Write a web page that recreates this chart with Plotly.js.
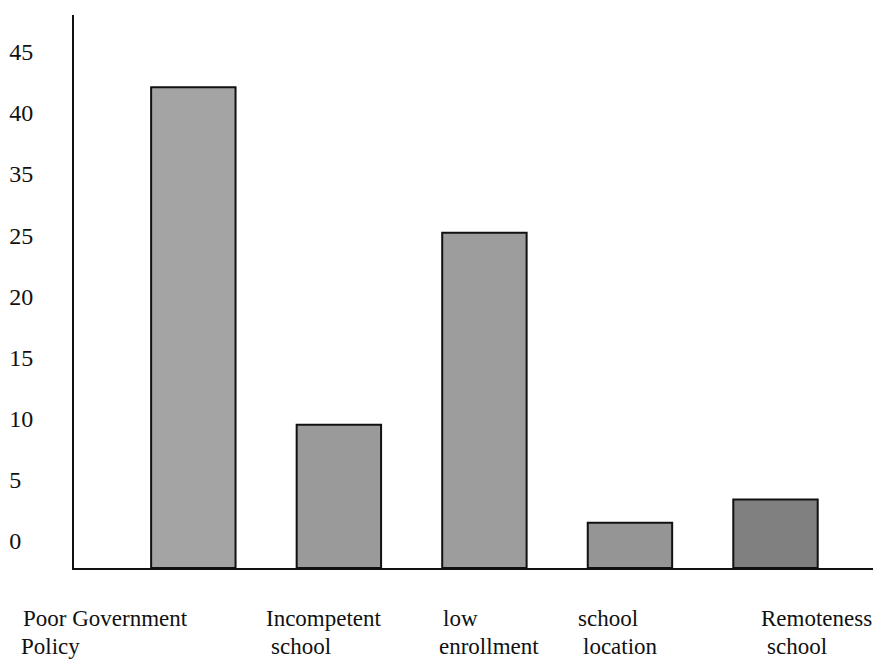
<!DOCTYPE html>
<html>
<head>
<meta charset="utf-8">
<script src="https://cdn.plot.ly/plotly-3.0.1.min.js"></script>
<style>
  html, body { margin: 0; padding: 0; background: #ffffff; }
  #chart { width: 874px; height: 664px; }
</style>
</head>
<body>
<div id="chart"></div>
<script>
// ---- data ----
const categories = [
  'Poor Government<br>Policy',
  'Incompetent<br>school',
  'low<br>enrollment',
  'school<br>location',
  'Remoteness<br>school'
];
// bar heights in the chart's own axis units (label "0" = 0, one label step = 5)
const values = [37.1, 9.5, 25.2, 1.5, 3.4];
// tick labels as printed on the y axis (note: the original skips 30)
const yTickLabels = ['0', '5', '10', '15', '20', '25', '35', '40', '45'];

// ---- styling / layout constants ----
const barColors = ['#a4a4a4', '#9a9a9a', '#9d9d9d', '#959595', '#808080'];
const yFloor = -2.2;   // the x axis line sits a little below the "0" label
const yTop = 43.0;
const serif = 'Liberation Serif';

// left-aligned label lines under the axis (pixel x of each line's left edge)
const labelLeft = [[22, 20], [265, 270], [442, 438], [577, 582], [760, 766]];
const plotLeft = 74, plotWidth = 799;

const trace = {
  type: 'bar',
  x: categories,
  y: values.map(v => v - yFloor),
  base: yFloor,
  width: 0.58,
  marker: {
    color: barColors,
    line: { color: '#111111', width: 2 }
  },
  hoverinfo: 'skip'
};

const annotations = [];
categories.forEach((c, i) => {
  c.split('<br>').forEach((line, j) => {
    annotations.push({
      xref: 'paper', yref: 'paper',
      x: (labelLeft[i][j] - plotLeft) / plotWidth,
      y: 0, yshift: -(37 + j * 28),
      xanchor: 'left', yanchor: 'top',
      showarrow: false,
      borderpad: 0,
      text: line,
      font: { family: serif, size: 23, color: '#111111' }
    });
  });
});

const layout = {
  width: 874, height: 664,
  margin: { l: plotLeft, r: 1, t: 15, b: 96 },
  paper_bgcolor: '#ffffff',
  plot_bgcolor: '#ffffff',
  showlegend: false,
  font: { family: serif, color: '#111111' },
  xaxis: {
    type: 'category',
    range: [-0.82, 4.67],
    showticklabels: false,
    ticks: '',
    showgrid: false,
    zeroline: false,
    showline: true,
    linecolor: '#111111',
    linewidth: 2
  },
  yaxis: {
    range: [yFloor, yTop],
    tickvals: yTickLabels.map((_, i) => i * 5),
    ticktext: yTickLabels.map(t => t.length === 1 ? t + '\u2007' : t),
    ticks: '',
    ticklabelstandoff: 34,
    tickfont: { family: serif, size: 24, color: '#111111' },
    showgrid: false,
    zeroline: false,
    showline: true,
    linecolor: '#111111',
    linewidth: 2
  },
  annotations: annotations
};

Plotly.newPlot('chart', [trace], layout, { displayModeBar: false, staticPlot: true });
</script>
</body>
</html>
